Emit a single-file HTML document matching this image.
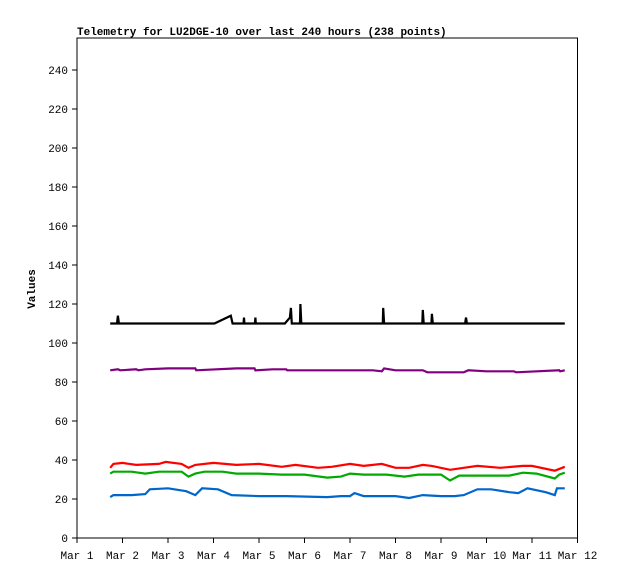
<!DOCTYPE html>
<html><head><meta charset="utf-8"><style>
body{margin:0;background:#fff;}
svg text{font-family:"Liberation Mono","DejaVu Sans Mono",monospace;font-size:11px;fill:#000;}
</style></head><body>
<svg id="chart" width="618" height="579" xmlns="http://www.w3.org/2000/svg">
<text x="77" y="35" font-weight="bold">Telemetry for LU2DGE-10 over last 240 hours (238 points)</text>
<text transform="translate(35,289) rotate(-90)" text-anchor="middle" font-weight="bold">Values</text>
<g id="axes"></g><g id="series"></g>
</svg>
<script>
const yTicks=[0,20,40,60,80,100,120,140,160,180,200,220,240];
const xTickLabels=["Mar 1","Mar 2","Mar 3","Mar 4","Mar 5","Mar 6","Mar 7","Mar 8","Mar 9","Mar 10","Mar 11","Mar 12"];
const blackT=[1.73,1.88,1.9,1.92,4.02,4.38,4.42,4.66,4.67,4.68,4.91,4.92,4.93,5.57,5.68,5.7,5.72,5.9,5.91,5.93,7.72,7.73,7.75,8.59,8.6,8.62,8.79,8.8,8.82,9.53,9.55,9.57,11.72];
const blackV=[110,110,114,110,110,114,110,110,113,110,110,113,110,110,113,118,110,110,120,110,110,118,110,110,117,110,110,115,110,110,113,110,110];
const purpleT=[1.73,1.9,1.95,2.3,2.35,2.5,3.0,3.6,3.62,4.5,4.9,4.92,5.3,5.6,5.62,6.2,7.5,7.7,7.75,8.0,8.6,8.7,9.5,9.6,10.0,10.6,10.65,11.6,11.62,11.72];
const purpleV=[86,86.5,86,86.5,86,86.5,87,87,86,87,87,86,86.5,86.5,86,86,86,85.5,87,86,86,85,85,86,85.5,85.5,85,86,85.5,86];
const redT=[1.73,1.8,2.0,2.3,2.8,2.95,3.3,3.45,3.6,4.0,4.5,5.0,5.5,5.8,6.3,6.6,7.0,7.3,7.7,8.0,8.3,8.6,8.8,9.2,9.5,9.8,10.3,10.8,11.0,11.5,11.72];
const redV=[36,38,38.5,37.5,38,39,38,36,37.5,38.5,37.5,38,36.5,37.5,36,36.5,38,37,38,36,36,37.5,37,35,36,37,36,37,37,34.5,36.5];
const greenT=[1.73,1.8,2.2,2.5,2.8,3.3,3.45,3.6,3.8,4.2,4.5,5.0,5.5,6.0,6.5,6.8,7.0,7.3,7.8,8.2,8.5,9.0,9.2,9.4,10.0,10.5,10.8,11.1,11.5,11.6,11.72];
const greenV=[33,34,34,33,34,34,31.5,33,34,34,33,33,32.5,32.5,31,31.5,33,32.5,32.5,31.5,32.5,32.5,29.5,32,32,32,33.5,33,30.5,32.5,33.5];
const blueT=[1.73,1.8,2.2,2.5,2.6,3.0,3.4,3.6,3.75,4.1,4.4,5.0,5.6,6.5,6.8,7.0,7.1,7.3,8.0,8.3,8.6,9.0,9.3,9.5,9.8,10.1,10.5,10.7,10.9,11.3,11.5,11.55,11.72];
const blueV=[21,22,22,22.5,25,25.5,24,22,25.5,25,22,21.5,21.5,21,21.5,21.5,23,21.5,21.5,20.5,22,21.5,21.5,22,25,25,23.5,23,25.5,23.5,22,25.5,25.5];
const X0=77,X1=577.5,Y0=538,YT=38;
const xs=d=>X0+(d-1)*(X1-X0)/11;
const ys=v=>Y0-v*1.95;
const NS="http://www.w3.org/2000/svg";
function mk(tag,attrs,parent){const e=document.createElementNS(NS,tag);for(const k in attrs)e.setAttribute(k,attrs[k]);parent.appendChild(e);return e;}
const ax=document.getElementById('axes');
const frame=mk('rect',{x:X0,y:YT,width:X1-X0,height:Y0-YT,fill:'none',stroke:'#000','stroke-width':1},ax);


yTicks.forEach(v=>{
 const t=mk('line',{x1:X0-5,x2:X0,y1:ys(v),y2:ys(v),stroke:'#000'},ax);
 
 
 const l=mk('text',{x:X0-9,y:ys(v)+4,'text-anchor':'end'},ax);l.textContent=v;
 
 
});
xTickLabels.forEach((s,i)=>{
 const x=xs(i+1);
 const t=mk('line',{x1:x,x2:x,y1:Y0,y2:Y0+5,stroke:'#000'},ax);
 
 
 const l=mk('text',{x:x,y:Y0+21,'text-anchor':'middle'},ax);l.textContent=s;
 
 
});
const sg=document.getElementById('series');
[[blackT,blackV,'#000','series-black'],[purpleT,purpleV,'#800080','series-purple'],[redT,redV,'#ff0000','series-red'],[greenT,greenV,'#00aa00','series-green'],[blueT,blueV,'#0066cc','series-blue']].forEach(([T,V,c,n])=>{
 const p=mk('polyline',{points:T.map((t,i)=>xs(t).toFixed(1)+','+ys(V[i]).toFixed(1)).join(' '),fill:'none',stroke:c,'stroke-width':2.2},sg);
 
 
});
</script>
</body></html>
